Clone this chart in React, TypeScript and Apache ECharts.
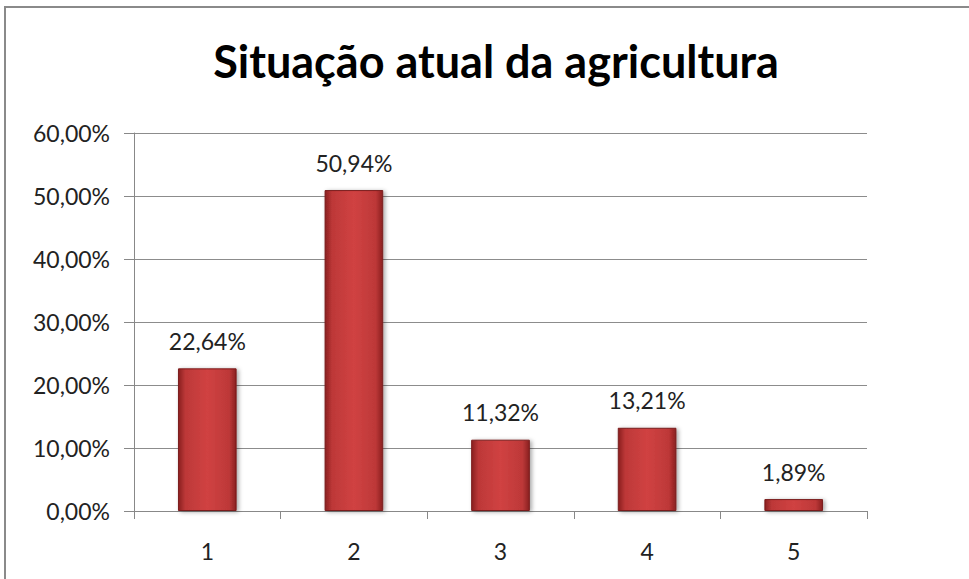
import React, { useEffect, useRef } from "react";
import * as echarts from "echarts";

const categories = ["1", "2", "3", "4", "5"];
const values = [22.64, 50.94, 11.32, 13.21, 1.89];
const yTicks = [0, 10, 20, 30, 40, 50, 60];
const titleText = "Situação atual da agricultura";

const fmt = (v: number) => v.toFixed(2).replace(".", ",") + "%";

export default function App() {
  const ref = useRef<HTMLDivElement>(null);
  useEffect(() => {
    if (!ref.current) return;
    const chart = echarts.init(ref.current, null, { renderer: "svg" });
    const font = "Lato, 'Open Sans', sans-serif";
    chart.setOption({
      animation: false,
      backgroundColor: "#ffffff",
      title: {
        text: titleText,
        left: 491,
        textAlign: "center",
        top: 33,
        textStyle: { fontFamily: font, fontWeight: "bold", fontSize: 45, color: "#000" },
      },
      graphic: [
        {
          type: "rect",
          shape: { x: 5, y: 7, width: 1000, height: 600 },
          style: { fill: "none", stroke: "#8a8a8a", lineWidth: 2 },
          silent: true,
        },
      ],
      grid: { left: 134, right: 102, top: 133, bottom: 68, containLabel: false },
      xAxis: {
        type: "category",
        data: categories,
        axisLine: { lineStyle: { color: "#888", width: 1 } },
        axisTick: { show: true, length: 8, lineStyle: { color: "#888" } },
        axisLabel: { fontFamily: font, fontSize: 23, color: "#222", margin: 28 },
      },
      yAxis: {
        type: "value",
        min: yTicks[0],
        max: yTicks[yTicks.length - 1],
        interval: 10,
        axisLine: { show: true, lineStyle: { color: "#888" } },
        axisTick: { show: true, length: 10, inside: false, lineStyle: { color: "#888" } },
        splitLine: { lineStyle: { color: "#8c8c8c", width: 1 } },
        axisLabel: {
          fontFamily: font,
          fontSize: 23,
          color: "#222",
          margin: 24,
          formatter: (v: number) => fmt(v),
        },
      },
      series: [
        {
          type: "bar",
          data: values,
          barWidth: "40%",
          itemStyle: {
            color: new echarts.graphic.LinearGradient(0, 0, 1, 0, [
              { offset: 0, color: "#8a2020" },
              { offset: 0.12, color: "#bd3838" },
              { offset: 0.5, color: "#d04242" },
              { offset: 0.88, color: "#bd3838" },
              { offset: 1, color: "#8a2020" },
            ]),
            borderColor: "#7a1c1c",
            borderWidth: 1,
            shadowColor: "rgba(0,0,0,0.35)",
            shadowBlur: 4,
            shadowOffsetX: 2,
            shadowOffsetY: 1,
          },
          label: {
            show: true,
            position: "top",
            distance: 16,
            fontFamily: font,
            fontSize: 23,
            color: "#222",
            formatter: (p: any) => fmt(p.value),
          },
        },
      ],
    });
    return () => chart.dispose();
  }, []);
  return (
    <div
      ref={ref}
      style={{ position: "fixed", left: 0, top: 0, width: 969, height: 579 }}
    />
  );
}
